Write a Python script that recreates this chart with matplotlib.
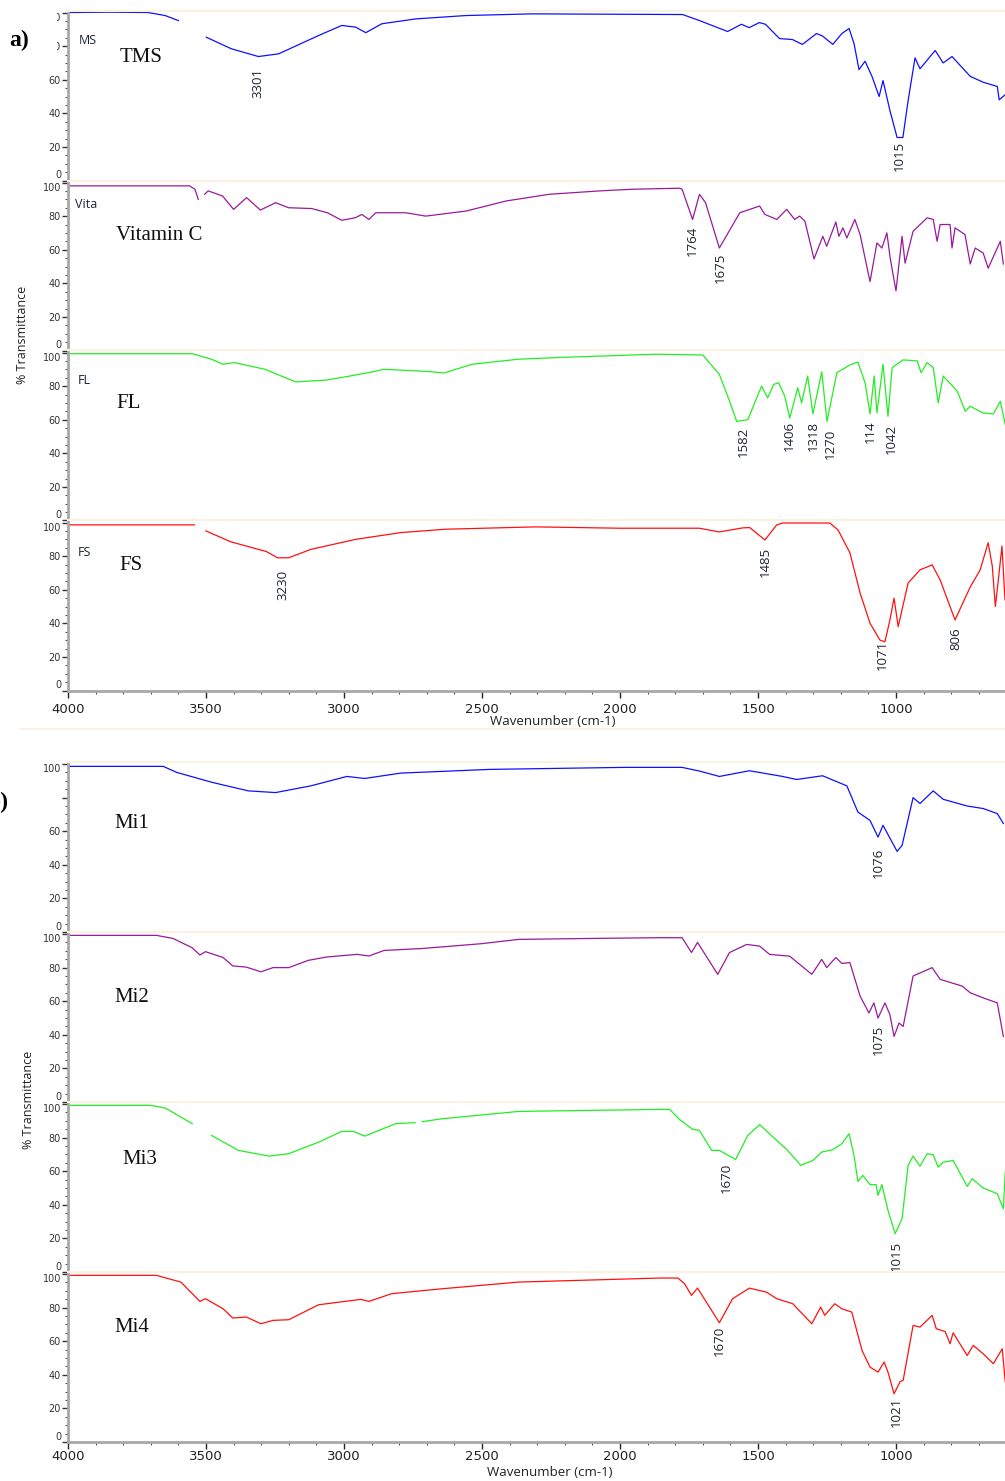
import numpy as np
import matplotlib
matplotlib.use("Agg")
import matplotlib.pyplot as plt
from matplotlib.patches import Rectangle
from matplotlib.lines import Line2D

nan = np.nan

# ---- spectra (wavenumber cm-1, % transmittance) ----
# panel a
wn_tms = [4000, 3850, 3710, 3648, 3600, 3560, 3499, 3408, 3310, 3237, 3165, 3092,
          3008, 2958, 2921, 2863, 2740, 2558, 2318, 1773, 1712, 1610, 1560, 1532,
          1495, 1473, 1422, 1375, 1339, 1288, 1266, 1229, 1196, 1170, 1152, 1134,
          1112, 1087, 1061, 1047, 1022, 996, 975, 956, 931, 913, 858, 829, 797,
          731, 684, 633, 626, 605]
t_tms = [100, 100.2, 100, 98.2, 95.2, nan, 85.3, 78.4, 73.8, 75.4, 80.8, 86.3,
         92.3, 91.3, 88, 93.3, 96.2, 98.2, 99.2, 98.8, 95.2, 88.7, 93, 91,
         94, 93, 84.5, 83.9, 81, 87.5, 86, 81, 87.5, 90.5, 81.5, 66,
         71, 62, 50, 59.5, 41.7, 25.6, 25.6, 47.6, 73, 66.5, 77.4, 70, 73.8,
         62, 58.5, 56, 48, 51]

wn_vita = [4000, 3560, 3540, 3528, 3520, 3505, 3492, 3440, 3400, 3353, 3303, 3248,
           3201, 3117, 3060, 3008, 2960, 2935, 2910, 2885, 2776, 2704, 2558, 2413,
           2256, 2075, 1955, 1784, 1775, 1737, 1712, 1690, 1640, 1566, 1494, 1475,
           1432, 1396, 1367, 1349, 1330, 1297, 1265, 1251, 1218, 1207, 1192, 1178,
           1149, 1130, 1094, 1069, 1051, 1033, 1021, 1000, 978, 967, 938, 887, 865,
           851, 840, 804, 797, 786, 750, 731, 713, 684, 666, 622, 611]
t_vita = [98, 98, 96, 90, nan, 93, 95, 92, 84, 91, 83.6, 88,
          85, 84.5, 82, 77.5, 79, 81, 78, 82, 82, 80, 83, 89,
          93, 95, 96, 96.6, 96, 78, 93, 88, 61, 82, 86, 81,
          78, 84, 78, 80, 77, 54.5, 68, 62, 76.5, 68, 73, 67,
          78, 69, 41, 64, 61, 70, 55, 35.5, 68, 52, 71, 79, 78,
          65, 75, 75, 61, 73, 69, 51.5, 61, 58, 49, 65, 51.5]

wn_fl = [4000, 3550, 3480, 3438, 3397, 3286, 3175, 3063, 2979, 2896, 2855, 2729,
         2680, 2638, 2536, 2369, 2229, 1868, 1700, 1640, 1603, 1577, 1537, 1487,
         1465, 1443, 1425, 1403, 1385, 1356, 1342, 1320, 1301, 1269, 1250, 1214,
         1167, 1138, 1112, 1094, 1079, 1069, 1047, 1029, 1014, 974, 923, 909, 887,
         865, 847, 829, 778, 749, 731, 684, 647, 622, 604]
t_fl = [99.3, 99.3, 96, 93, 94, 90, 82.5, 83.6, 86, 88.5, 90, 89,
        88.5, 87.8, 93, 96, 97, 99, 98.5, 87, 71, 59, 60, 80,
        73, 81, 82, 74, 61, 79, 70, 86, 63.5, 88.5, 59, 88,
        92.6, 94.3, 82, 63.5, 86, 64, 93, 62, 91, 95.6, 95, 88, 94,
        91, 70, 86, 77, 65, 68, 64, 63.5, 71, 57]

wn_fs = [4000, 3542, 3520, 3500, 3412, 3281, 3241, 3201, 3120, 2957, 2794, 2634,
         2307, 2000, 1712, 1640, 1555, 1530, 1475, 1432, 1410, 1240, 1210, 1167,
         1130, 1094, 1058, 1040, 1022, 1007, 992, 956, 913, 869, 840, 786, 731,
         695, 666, 651, 640, 629, 616, 605]
t_fs = [98.6, 98.6, nan, 95, 88.6, 82.7, 79, 79, 84, 90, 94, 96,
        97.4, 96.6, 96.6, 94.4, 96.8, 97, 89.6, 98.6, 99.7, 99.7, 95.6, 82,
        58, 40, 30, 29, 42, 55, 38, 64, 71.8, 74.8, 65.8, 42, 61.6,
        71.8, 88, 74, 50, 66, 86, 54]

# panel b
wn_mi1 = [4000, 3655, 3606, 3476, 3346, 3248, 3120, 2990, 2925, 2794, 2471, 1984,
          1775, 1712, 1640, 1531, 1411, 1360, 1266, 1178, 1138, 1094, 1065, 1047,
          996, 978, 938, 913, 865, 829, 742, 684, 633, 611]
t_mi1 = [98.6, 98.6, 95, 89, 84, 83, 87, 92.6, 91.4, 94.6, 96.8, 98,
         98, 95.8, 92.6, 96, 92.6, 90.8, 93, 87, 71.4, 66.4, 56.5, 63.5,
         48, 51.5, 80, 76.5, 84, 79, 75, 73.5, 70.5, 64.6]

wn_mi2 = [4000, 3680, 3620, 3550, 3522, 3502, 3438, 3403, 3354, 3301, 3257, 3200,
          3130, 3063, 2952, 2910, 2855, 2715, 2505, 2367, 2089, 1856, 1775, 1741,
          1719, 1646, 1603, 1541, 1494, 1458, 1385, 1305, 1269, 1251, 1218, 1196,
          1167, 1130, 1098, 1080, 1065, 1040, 1022, 1007, 989, 974, 938, 869, 840,
          760, 731, 684, 633, 611]
t_mi2 = [99.2, 99.2, 97.4, 91.8, 87.5, 89.5, 86, 81, 80.3, 77.5, 80, 80,
         84.3, 86.3, 87.9, 86.9, 90.2, 91.4, 94.2, 96.8, 97.4, 97.8, 97.8, 89,
         95, 76, 89, 93.8, 92.8, 87.9, 86.8, 76, 84.9, 80, 86, 82.5,
         83, 63, 53, 59, 50, 59, 52, 39, 47, 45, 75, 80, 73,
         69, 65, 62, 59, 39]

wn_mi3 = [4000, 3700, 3647, 3550, 3532, 3480, 3383, 3272, 3201, 3092, 3008, 2966,
          2925, 2813, 2743, 2730, 2716, 2646, 2367, 1856, 1820, 1784, 1737, 1712,
          1668, 1640, 1581, 1537, 1494, 1432, 1396, 1345, 1301, 1269, 1229, 1196,
          1170, 1152, 1138, 1120, 1094, 1072, 1065, 1051, 1029, 1003, 978, 956,
          938, 913, 887, 865, 847, 829, 793, 742, 724, 684, 633, 611, 604]
t_mi3 = [99.2, 99.2, 97.6, 88.3, nan, 81.3, 72.4, 69, 70.4, 77.3, 83.7, 83.7,
         80.9, 88.3, 88.9, nan, 89.5, 91.2, 95.6, 96.8, 96.8, 90.8, 84.9, 84.3,
         72.4, 72.4, 67, 81.3, 87.7, 78.3, 73, 63.5, 66.4, 71.4, 72.8, 76.4,
         82.3, 69.4, 53.9, 57.5, 52, 52, 45.6, 52, 36.7, 22.8, 31.7, 63.5,
         69, 63, 70.4, 69.8, 62.4, 65.4, 66.4, 51, 55.5, 50, 46.6, 37.7, 59.5]

wn_mi4 = [4000, 3680, 3591, 3522, 3502, 3438, 3403, 3354, 3301, 3257, 3200, 3092,
          2939, 2910, 2827, 2646, 2367, 1856, 1790, 1766, 1741, 1719, 1640, 1592,
          1531, 1469, 1432, 1374, 1305, 1273, 1258, 1222, 1196, 1160, 1123, 1094,
          1065, 1043, 1029, 1007, 985, 974, 938, 913, 869, 854, 822, 804, 793,
          742, 720, 684, 647, 615, 604]
t_mi4 = [99.2, 99.2, 95.2, 83.7, 85.3, 79.3, 73.8, 74.4, 70.4, 72.4, 72.8, 81.7,
         84.9, 83.7, 88.3, 91.2, 95.2, 97.6, 97.6, 94.2, 87.3, 91.6, 71, 85.3,
         91.6, 89.2, 85.3, 82.3, 70.4, 80.3, 75.4, 82.3, 79.3, 77.3, 54.5, 44.6,
         41.6, 47.6, 41.6, 28.7, 36, 36.7, 69.4, 68.4, 75.4, 67.4, 65.8, 58.5, 65,
         51.5, 57.5, 52.5, 46.6, 55.5, 35.7]

# peak labels: (text, wavenumber where the label sits)
peaks_tms = [("3301", 3310), ("1015", 989)]
peaks_vita = [("1764", 1737), ("1675", 1635)]
peaks_fl = [("1582", 1555), ("1406", 1385), ("1318", 1301), ("1270", 1239),
            ("114", 1094), ("1042", 1018)]
peaks_fs = [("3230", 3223), ("1485", 1472), ("1071", 1050), ("806", 782)]
peaks_mi1 = [("1076", 1065)]
peaks_mi2 = [("1075", 1065)]
peaks_mi3 = [("1670", 1614), ("1015", 1000)]
peaks_mi4 = [("1670", 1639), ("1021", 1000)]

# where the top of each peak label sits (% T units)
label_tops = {
    "TMS": [66.7, 23.8], "Vita": [74.2, 58.0],
    "FL": [55.7, 59.3, 59.3, 54.5, 59.3, 57.5], "FS": [71.8, 85.5, 30.0, 37.8],
    "Mi1": [50.4], "Mi2": [46.2], "Mi3": [65.2, 18.8], "Mi4": [69.4, 26.6],
}

BLUE, PURPLE, GREEN, RED = "#1010ff", "#9a1a9a", "#22ee22", "#ff1010"
W, H = 1005, 1481
LEFT, RIGHT = 68, 1005
ROW_H = 170

panel_a = [
    ("TMS", "MS", "TMS", wn_tms, t_tms, peaks_tms, BLUE, 10.5, (120, 58), (79, 40)),
    ("Vita", "Vita", "Vitamin C", wn_vita, t_vita, peaks_vita, PURPLE, 180.5, (116, 236), (75, 204)),
    ("FL", "FL", "FL", wn_fl, t_fl, peaks_fl, GREEN, 350.5, (116, 403), (78, 380)),
    ("FS", "FS", "FS", wn_fs, t_fs, peaks_fs, RED, 520.5, (119, 566), (78, 553)),
]
panel_b = [
    ("Mi1", None, "Mi1", wn_mi1, t_mi1, peaks_mi1, BLUE, 762, (114, 824), None),
    ("Mi2", None, "Mi2", wn_mi2, t_mi2, peaks_mi2, PURPLE, 932, (114, 997), None),
    ("Mi3", None, "Mi3", wn_mi3, t_mi3, peaks_mi3, GREEN, 1102, (122, 1159), None),
    ("Mi4", None, "Mi4", wn_mi4, t_mi4, peaks_mi4, RED, 1272, (114, 1328), None),
]

fig = plt.figure(figsize=(W / 100, H / 100), dpi=100)


def fx(x):
    return x / W


def fy(y):
    return 1 - y / H


def draw_panel(rows, tick_pad, xlabel_xy, ylabel_xy):
    for i, (key, small, big, wn, t, peaks, color, top, big_xy, small_xy) in enumerate(rows):
        ax = fig.add_axes([fx(LEFT), fy(top + ROW_H), (RIGHT - LEFT) / W, ROW_H / H])
        ax.plot(wn, t, color=color, lw=0.9)
        ax.set_xlim(4000, 605)
        ax.set_ylim(0, 101.2)
        ax.set_yticks([0, 20, 40, 60, 80, 100])
        ax.set_yticks(np.arange(0, 101, 5), minor=True)
        ax.tick_params(axis="y", which="major", length=4, width=1, labelsize=7,
                       colors="#333333", pad=1)
        ax.tick_params(axis="y", which="minor", length=2, width=0.8, colors="#555555")
        # end labels are pushed inside the strip, like the spectrometer software does
        yticks = ax.yaxis.get_major_ticks()
        yticks[0].label1.set_verticalalignment("bottom")
        yticks[-1].label1.set_verticalalignment("top")
        ax.spines["right"].set_visible(False)
        ax.spines["left"].set_color("#a8a8a8")
        ax.spines["left"].set_linewidth(2)
        ax.spines["top"].set_color("#fbf1e0")
        ax.spines["top"].set_linewidth(1.5)
        last = i == len(rows) - 1
        if last:
            ax.set_xticks([4000, 3500, 3000, 2500, 2000, 1500, 1000])
            ax.set_xticks(np.arange(4000, 600, -100), minor=True)
            ax.tick_params(axis="x", which="major", length=5, width=1, labelsize=9.5,
                           colors="#222222", pad=tick_pad)
            ax.tick_params(axis="x", which="minor", length=2.5, width=0.8, colors="#555555")
            ax.spines["bottom"].set_color("#a8a8a8")
            ax.spines["bottom"].set_linewidth(2)
        else:
            ax.set_xticks([])
            ax.spines["bottom"].set_visible(False)
        for (txt, pos), ytop in zip(peaks, label_tops[key]):
            ax.text(pos, ytop, txt, rotation=90, ha="center", va="top",
                    fontsize=9.5, color="#1c2433", family="Open Sans")
        if small is not None:
            fig.text(fx(small_xy[0]), fy(small_xy[1]), small, fontsize=9,
                     va="center", ha="left", color="#1c2433", family="Open Sans")
        fig.text(fx(big_xy[0]), fy(big_xy[1]), big, fontsize=15, va="center",
                 ha="left", color="#111111", family="Liberation Serif")
    fig.text(fx(xlabel_xy[0]), fy(xlabel_xy[1]), "Wavenumber (cm-1)", fontsize=9.5,
             ha="center", va="center", color="#222222", family="Open Sans")
    fig.text(fx(ylabel_xy[0]), fy(ylabel_xy[1]), "% Transmittance", fontsize=9,
             rotation=90, ha="center", va="center", color="#222222", family="Open Sans")


draw_panel(panel_a, 4, (553, 722), (22, 335))
draw_panel(panel_b, 1, (550, 1473), (28, 1100))

# faint separator under panel a
fig.add_artist(Line2D([fx(20), 1], [fy(729), fy(729)], color="#fbf1e0", lw=1.5))

# panel letters sit in white boxes that hide part of the axis labels
fig.add_artist(Rectangle((0, fy(55)), fx(57), 55 / H, facecolor="white",
                         edgecolor="none", zorder=5))
fig.text(fx(9), fy(40), "a)", fontsize=17, fontweight="bold", va="center",
         ha="left", family="Liberation Serif", zorder=6)
fig.add_artist(Rectangle((0, fy(818)), fx(60), 36 / H, facecolor="white",
                         edgecolor="none", zorder=5))
# the letter b runs off the left edge in the original crop
fig.text(fx(-12), fy(802), "b)", fontsize=17, fontweight="bold", va="center",
         ha="left", family="Liberation Serif", zorder=6)

fig.savefig("out.png", dpi=100)
